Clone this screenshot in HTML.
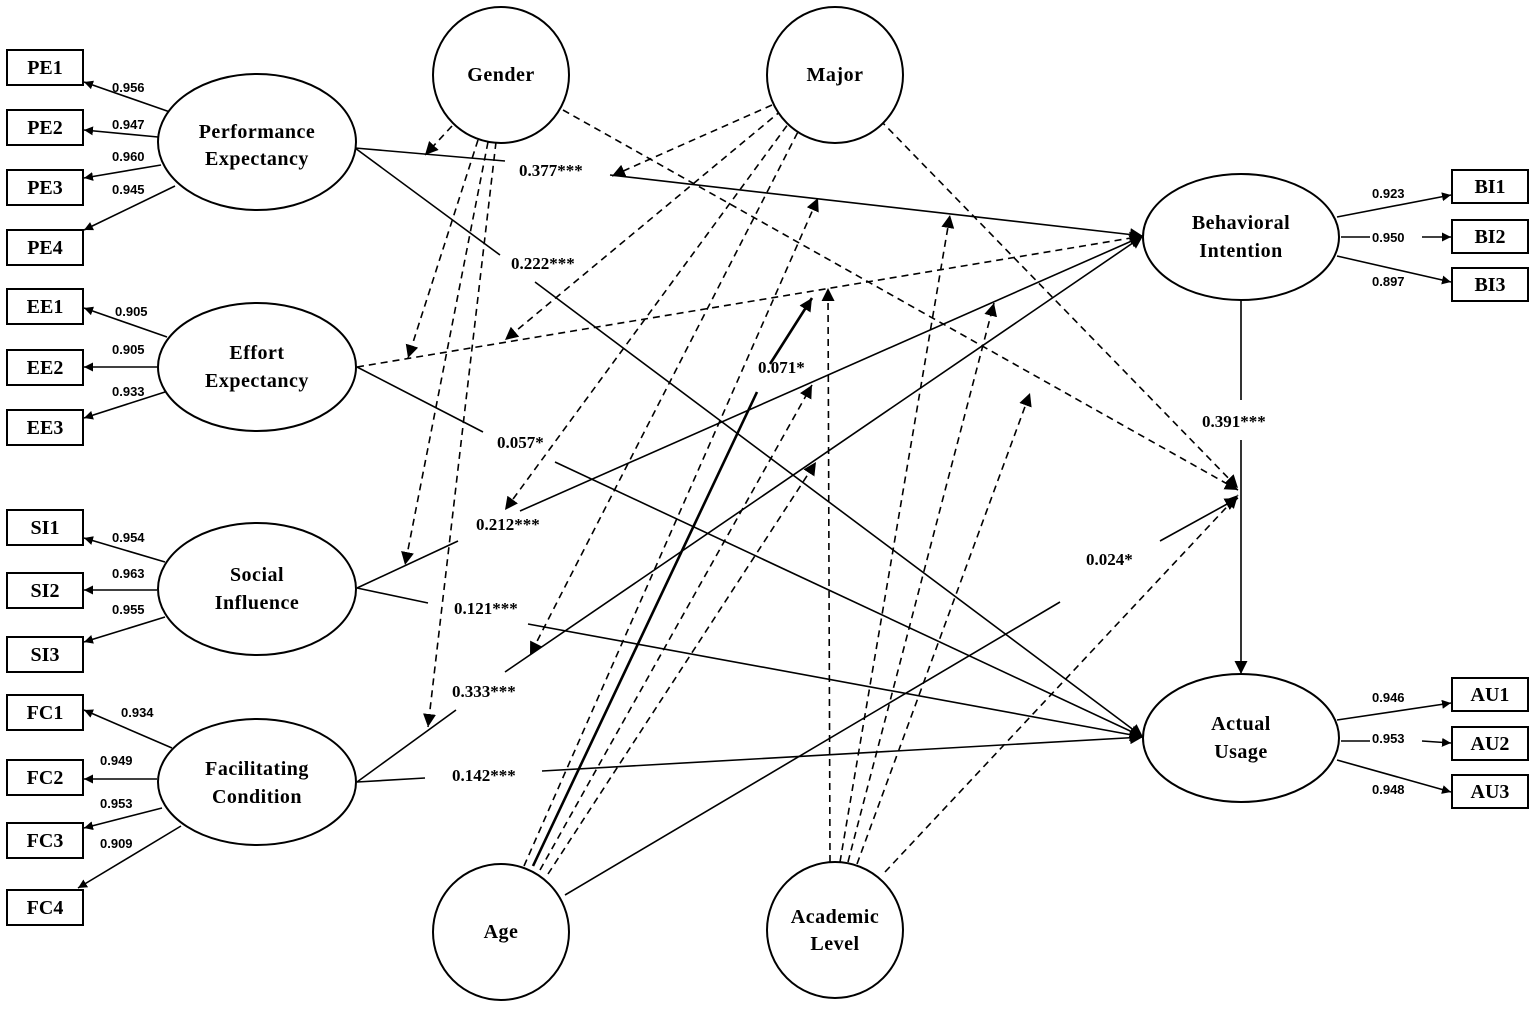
<!DOCTYPE html>
<html><head><meta charset="utf-8"><style>
html,body{margin:0;padding:0;background:#fff;}
svg{display:block;}
.n{font-family:"Liberation Serif",serif;font-weight:bold;font-size:20px;letter-spacing:0.5px;text-anchor:middle;}
.b{font-family:"Liberation Serif",serif;font-weight:bold;font-size:20px;text-anchor:middle;}
.c{font-family:"Liberation Serif",serif;font-weight:bold;font-size:17px;}
.l{font-family:"Liberation Sans",sans-serif;font-weight:bold;font-size:13px;}
</style></head><body>
<svg width="1535" height="1011" viewBox="0 0 1535 1011" xmlns="http://www.w3.org/2000/svg">
<defs>
<marker id="a" viewBox="0 0 10 10" refX="10" refY="5" markerWidth="9" markerHeight="9" markerUnits="userSpaceOnUse" orient="auto"><path d="M0,0 L10,5 L0,10 z" fill="#000"/></marker>
<marker id="a2" viewBox="0 0 10 10" refX="10" refY="5" markerWidth="13" markerHeight="13" markerUnits="userSpaceOnUse" orient="auto"><path d="M0,0 L10,5 L0,10 z" fill="#000"/></marker>
</defs>
<g fill="#fff" stroke="#000" stroke-width="2">
<rect x="7" y="50" width="76" height="35"/><rect x="7" y="110" width="76" height="35"/><rect x="7" y="170" width="76" height="35"/><rect x="7" y="230" width="76" height="35"/>
<rect x="7" y="289" width="76" height="35"/><rect x="7" y="350" width="76" height="35"/><rect x="7" y="410" width="76" height="35"/>
<rect x="7" y="510" width="76" height="35"/><rect x="7" y="573" width="76" height="35"/><rect x="7" y="637" width="76" height="35"/>
<rect x="7" y="695" width="76" height="35"/><rect x="7" y="760" width="76" height="35"/><rect x="7" y="823" width="76" height="35"/><rect x="7" y="890" width="76" height="35"/>
<rect x="1452" y="170" width="76" height="33"/><rect x="1452" y="220" width="76" height="33"/><rect x="1452" y="268" width="76" height="33"/>
<rect x="1452" y="678" width="76" height="33"/><rect x="1452" y="727" width="76" height="33"/><rect x="1452" y="775" width="76" height="33"/>
</g>
<g stroke="#000" stroke-width="1.6" fill="none" marker-end="url(#a)">
<line x1="170" y1="112" x2="84" y2="82"/><line x1="158" y1="137" x2="84" y2="130"/><line x1="161" y1="165" x2="84" y2="178"/><line x1="175" y1="186" x2="84" y2="230"/>
<line x1="167" y1="337" x2="84" y2="308"/><line x1="157" y1="367" x2="84" y2="367"/><line x1="165" y1="392" x2="84" y2="418"/>
<line x1="165" y1="562" x2="84" y2="538"/><line x1="157" y1="590" x2="84" y2="590"/><line x1="165" y1="617" x2="84" y2="642"/>
<line x1="172" y1="748" x2="84" y2="710"/><line x1="157" y1="779" x2="84" y2="779"/><line x1="162" y1="808" x2="84" y2="828"/><line x1="181" y1="826" x2="78" y2="888"/>
<line x1="1337" y1="217" x2="1451" y2="195"/><line x1="1341" y1="237" x2="1370" y2="237" marker-end="none"/><line x1="1422" y1="237" x2="1451" y2="237"/><line x1="1337" y1="256" x2="1451" y2="282"/>
<line x1="1337" y1="720" x2="1451" y2="703"/><line x1="1341" y1="741" x2="1370" y2="741" marker-end="none"/><line x1="1422" y1="741" x2="1451" y2="743"/><line x1="1337" y1="760" x2="1451" y2="792"/>
</g>
<!-- structural paths -->
<g stroke="#000" stroke-width="1.6" fill="none">
<line x1="355" y1="148" x2="505" y2="161"/><line x1="610" y1="175" x2="1143" y2="236" marker-end="url(#a2)"/>
<line x1="355" y1="148" x2="500" y2="255"/><line x1="535" y1="282" x2="1143" y2="737" marker-end="url(#a2)"/>
<line x1="357" y1="367" x2="483" y2="432"/><line x1="555" y1="462" x2="1143" y2="737" marker-end="url(#a2)"/>
<line x1="357" y1="588" x2="458" y2="541"/><line x1="520" y1="511" x2="1143" y2="236" marker-end="url(#a2)"/>
<line x1="357" y1="588" x2="428" y2="603"/><line x1="528" y1="624" x2="1143" y2="737" marker-end="url(#a2)"/>
<line x1="357" y1="782" x2="456" y2="710"/><line x1="505" y1="672" x2="1143" y2="236" marker-end="url(#a2)"/>
<line x1="357" y1="782" x2="425" y2="778"/><line x1="542" y1="771" x2="1143" y2="737" marker-end="url(#a2)"/>
<line x1="1241" y1="299" x2="1241" y2="400"/><line x1="1241" y1="440" x2="1241" y2="674" marker-end="url(#a2)"/>
<line x1="565" y1="895" x2="1060" y2="602"/><line x1="1160" y1="541" x2="1238" y2="498" marker-end="url(#a2)"/>
<line x1="533" y1="866" x2="757" y2="392" stroke-width="2.6"/><line x1="770" y1="364" x2="812" y2="298" stroke-width="2.6" marker-end="url(#a2)"/>
</g>
<!-- dashed moderation -->
<g stroke="#000" stroke-width="1.6" fill="none" stroke-dasharray="7,5" marker-end="url(#a2)">
<line x1="357" y1="367" x2="1143" y2="236"/>
<line x1="452" y1="126" x2="425" y2="155"/>
<line x1="478" y1="140" x2="408" y2="358"/>
<line x1="488" y1="142" x2="405" y2="565"/>
<line x1="496" y1="142" x2="428" y2="727"/>
<line x1="563" y1="110" x2="1238" y2="490"/>
<line x1="772" y1="105" x2="612" y2="176"/>
<line x1="782" y1="110" x2="505" y2="340"/>
<line x1="794" y1="116" x2="505" y2="510"/>
<line x1="803" y1="122" x2="530" y2="655"/>
<line x1="880" y1="120" x2="1238" y2="488"/>
<line x1="524" y1="866" x2="818" y2="198"/>
<line x1="540" y1="870" x2="812" y2="385"/>
<line x1="548" y1="874" x2="816" y2="462"/>
<line x1="830" y1="862" x2="828" y2="288"/>
<line x1="840" y1="862" x2="950" y2="215"/>
<line x1="848" y1="862" x2="994" y2="303"/>
<line x1="857" y1="864" x2="1030" y2="393"/>
<line x1="885" y1="872" x2="1238" y2="495"/>
</g>
<g fill="#fff" stroke="#000" stroke-width="2">
<ellipse cx="257" cy="142" rx="99" ry="68"/>
<ellipse cx="257" cy="367" rx="99" ry="64"/>
<ellipse cx="257" cy="589" rx="99" ry="66"/>
<ellipse cx="257" cy="782" rx="99" ry="63"/>
<ellipse cx="1241" cy="237" rx="98" ry="63"/>
<ellipse cx="1241" cy="738" rx="98" ry="64"/>
<circle cx="501" cy="75" r="68"/><circle cx="835" cy="75" r="68"/>
<circle cx="501" cy="932" r="68"/><circle cx="835" cy="930" r="68"/>
</g>
<g class="b">
<text x="45" y="74">PE1</text><text x="45" y="134">PE2</text><text x="45" y="194">PE3</text><text x="45" y="254">PE4</text>
<text x="45" y="313">EE1</text><text x="45" y="374">EE2</text><text x="45" y="434">EE3</text>
<text x="45" y="534">SI1</text><text x="45" y="597">SI2</text><text x="45" y="661">SI3</text>
<text x="45" y="719">FC1</text><text x="45" y="784">FC2</text><text x="45" y="847">FC3</text><text x="45" y="914">FC4</text>
<text x="1490" y="193">BI1</text><text x="1490" y="243">BI2</text><text x="1490" y="291">BI3</text>
<text x="1490" y="701">AU1</text><text x="1490" y="750">AU2</text><text x="1490" y="798">AU3</text>
</g>
<g class="n">
<text x="257" y="138">Performance</text><text x="257" y="165">Expectancy</text>
<text x="257" y="359">Effort</text><text x="257" y="387">Expectancy</text>
<text x="257" y="581">Social</text><text x="257" y="609">Influence</text>
<text x="257" y="775">Facilitating</text><text x="257" y="803">Condition</text>
<text x="1241" y="229">Behavioral</text><text x="1241" y="257">Intention</text>
<text x="1241" y="730">Actual</text><text x="1241" y="758">Usage</text>
<text x="501" y="81">Gender</text><text x="835" y="81">Major</text>
<text x="501" y="938">Age</text><text x="835" y="923">Academic</text><text x="835" y="950">Level</text>
</g>
<g class="c">
<text x="519" y="176">0.377***</text><text x="511" y="269">0.222***</text><text x="497" y="448">0.057*</text>
<text x="476" y="530">0.212***</text><text x="454" y="614">0.121***</text><text x="452" y="697">0.333***</text>
<text x="452" y="781">0.142***</text><text x="758" y="373">0.071*</text><text x="1202" y="427">0.391***</text><text x="1086" y="565">0.024*</text>
</g>
<g class="l">
<text x="112" y="92">0.956</text><text x="112" y="129">0.947</text><text x="112" y="161">0.960</text><text x="112" y="194">0.945</text>
<text x="115" y="316">0.905</text><text x="112" y="354">0.905</text><text x="112" y="396">0.933</text>
<text x="112" y="542">0.954</text><text x="112" y="578">0.963</text><text x="112" y="614">0.955</text>
<text x="121" y="717">0.934</text><text x="100" y="765">0.949</text><text x="100" y="808">0.953</text><text x="100" y="848">0.909</text>
<text x="1372" y="198">0.923</text><text x="1372" y="242">0.950</text><text x="1372" y="286">0.897</text>
<text x="1372" y="702">0.946</text><text x="1372" y="743">0.953</text><text x="1372" y="794">0.948</text>
</g>
</svg>
</body></html>
